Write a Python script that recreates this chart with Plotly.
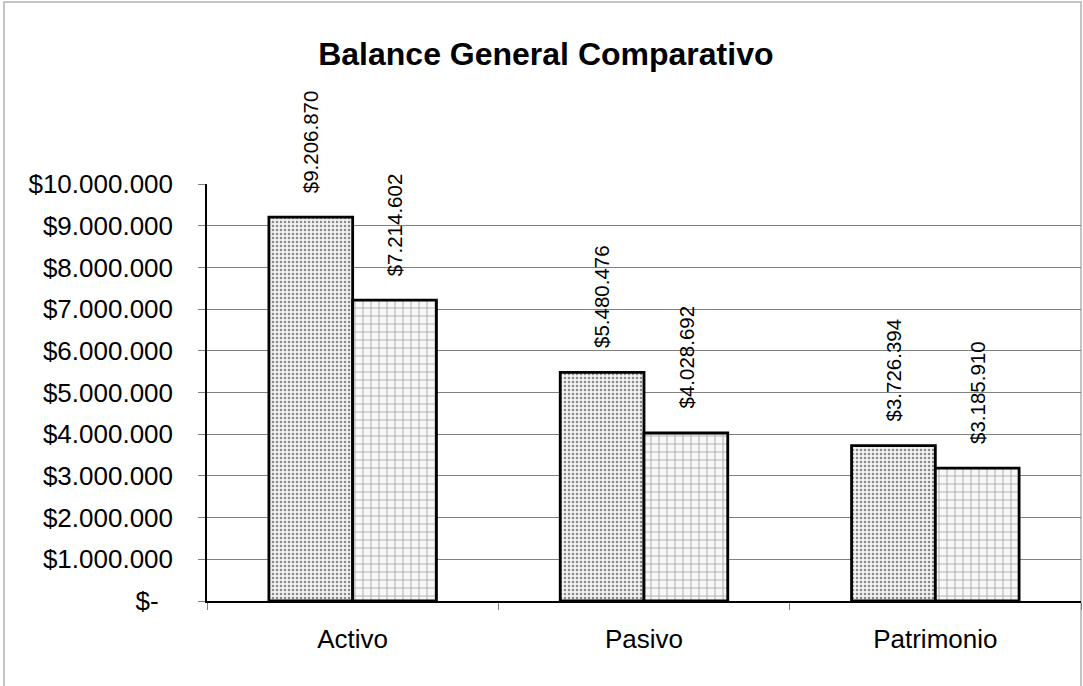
import plotly.graph_objects as go

categories = ["Activo", "Pasivo", "Patrimonio"]
serie_1 = [9206870, 5480476, 3726394]
serie_2 = [7214602, 4028692, 3185910]
tick_vals = [0, 1000000, 2000000, 3000000, 4000000, 5000000, 6000000, 7000000, 8000000, 9000000, 10000000]
tick_text = ["$-\u00a0\u00a0", "$1.000.000", "$2.000.000", "$3.000.000", "$4.000.000", "$5.000.000",
             "$6.000.000", "$7.000.000", "$8.000.000", "$9.000.000", "$10.000.000"]
title_text = "Balance General Comparativo"


def fmt(v):
    return "$" + f"{v:,}".replace(",", ".")


FONT = "Liberation Sans, Arial, sans-serif"
W, H = 1083, 686
ML, MR, MT, MB = 207, 2, 184, 85

fig = go.Figure()
fig.add_trace(go.Bar(
    x=categories, y=serie_1, name="Serie 1",
    marker=dict(color="#eeeeee", line=dict(color="black", width=2.8),
                pattern=dict(shape=".", fgcolor="#8a8a8a", bgcolor="#f2f2f2",
                             size=4, solidity=0.3, fillmode="replace")),
))
fig.add_trace(go.Bar(
    x=categories, y=serie_2, name="Serie 2",
    marker=dict(color="#f2f2f2", line=dict(color="black", width=2.8),
                pattern=dict(shape="+", fgcolor="#b4b4b4", bgcolor="#f8f8f8",
                             size=8, solidity=0.25, fillmode="replace")),
))

annotations = []
for i, c in enumerate(categories):
    for vals, shift in ((serie_1, -42), (serie_2, 42)):
        annotations.append(dict(
            x=c, y=vals[i], xref="x", yref="y", text=fmt(vals[i]),
            textangle=-90, showarrow=False, xanchor="center", yanchor="bottom",
            xshift=shift, yshift=22, font=dict(family=FONT, size=20.5, color="black"),
        ))

ph = H - MT - MB
pw = W - ML - MR
fig.add_shape(type="rect", xref="paper", yref="paper",
              x0=(4 - ML) / pw, x1=(1081 - ML) / pw,
              y0=((H - MB) - 692) / ph, y1=((H - MB) - 2) / ph,
              line=dict(color="#c4c4c4", width=2), fillcolor="rgba(0,0,0,0)", layer="below")

fig.update_layout(
    width=W, height=H,
    margin=dict(l=ML, r=MR, t=MT, b=MB),
    paper_bgcolor="white", plot_bgcolor="white",
    barmode="group", bargap=0.425, bargroupgap=0,
    showlegend=False,
    font=dict(family=FONT, color="black"),
    title=dict(text="<b>" + title_text + "</b>", x=0.504, xref="container", xanchor="center",
               y=(H - 54) / H, yanchor="middle", font=dict(family=FONT, size=32, color="black")),
    annotations=annotations,
    xaxis=dict(type="category", range=[-0.5, 2.5], showline=True, linecolor="black", linewidth=1.5,
               ticks="outside", tickson="boundaries", ticklen=7, tickcolor="#808080",
               tickfont=dict(family=FONT, size=26, color="black"), showgrid=False,
               ticklabelstandoff=14),
    yaxis=dict(range=[0, 10000000], tickvals=tick_vals, ticktext=tick_text, showline=True,
               linecolor="black", linewidth=1.5, ticks="outside", ticklen=7, tickcolor="#808080",
               showgrid=True, gridcolor="#808080", gridwidth=1, zeroline=False,
               tickfont=dict(family=FONT, size=26, color="black"), ticklabelstandoff=20),
)

fig.write_html("out.html", config={"displayModeBar": False},
               post_script="document.body.style.margin='0';document.body.style.overflow='hidden';")
